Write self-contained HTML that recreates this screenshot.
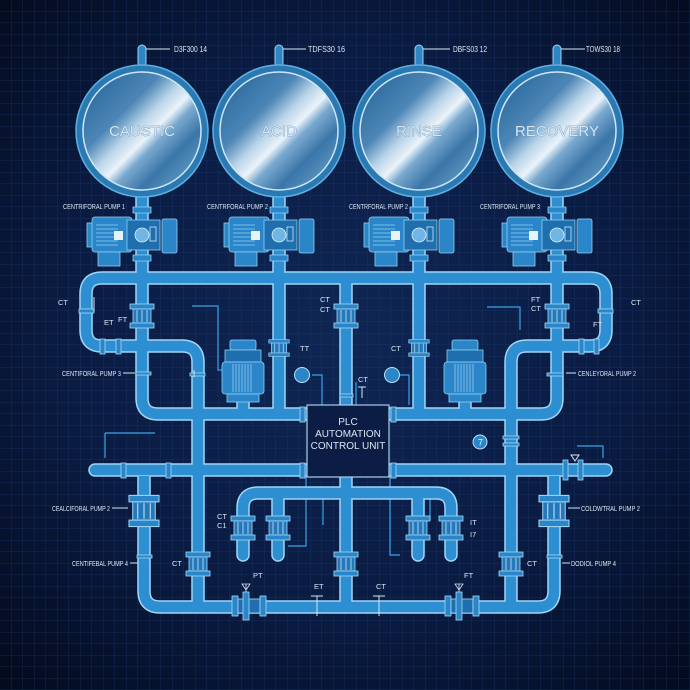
<!DOCTYPE html>
<html><head><meta charset="utf-8">
<style>
html,body{margin:0;padding:0;background:#081634;}
svg{display:block}
text{font-family:"Liberation Sans",sans-serif;fill:#d8e6f2}
</style></head>
<body>
<svg width="690" height="690" viewBox="0 0 690 690" xmlns="http://www.w3.org/2000/svg">
<defs>
<radialGradient id="bg" cx="50%" cy="48%" r="70%">
<stop offset="0" stop-color="#0f2654"/><stop offset="0.6" stop-color="#0a1b41"/><stop offset="1" stop-color="#040b1e"/>
</radialGradient>
<pattern id="grid" width="11.5" height="11.5" patternUnits="userSpaceOnUse">
<path d="M11.5 0V11.5H0" fill="none" stroke="#22407a" stroke-width="0.8" opacity="0.6"/>
</pattern>
<linearGradient id="metal" x1="0.1" y1="0.1" x2="0.9" y2="0.9">
<stop offset="0" stop-color="#2e6b9f"/><stop offset="0.3" stop-color="#4d86b6"/><stop offset="0.45" stop-color="#b9d4e8"/><stop offset="0.56" stop-color="#eaf3fa"/><stop offset="0.64" stop-color="#7aa9cf"/><stop offset="0.8" stop-color="#3b76a8"/><stop offset="1" stop-color="#5f98c4"/>
</linearGradient>
<g id="tank">
<rect x="-4" y="-86" width="8" height="22" rx="4" fill="#2f86c4" stroke="#9fd2f2" stroke-width="1"/>
<circle r="66" fill="#2a79b3" stroke="#5fb0e0" stroke-width="1.5"/>
<circle r="59" fill="url(#metal)" stroke="#cfe6f5" stroke-width="1.5"/>
</g>
<g id="hpump">
<rect x="-55" y="-14" width="6" height="24" fill="#2a86c8" stroke="#8fcff2" stroke-width="0.8"/>
<rect x="-50" y="-20" width="40" height="35" rx="3" fill="#2a86c8" stroke="#8fcff2" stroke-width="0.8"/>
<path d="M-46,-12h22M-46,-8h22M-46,-4h22M-46,0h22M-46,4h22M-46,8h22" stroke="#8fcff2" stroke-width="0.7"/>
<rect x="-28" y="-6" width="9" height="9" fill="#e8f2f8"/>
<rect x="-44" y="15" width="22" height="14" fill="#2a86c8" stroke="#8fcff2" stroke-width="0.8"/>
<rect x="-15" y="-17" width="33" height="30" fill="#1f6fae" stroke="#8fcff2" stroke-width="0.8"/>
<circle cx="0" cy="-2" r="7" fill="#6fb6e4" stroke="#d8eefa" stroke-width="0.8"/>
<rect x="8" y="-10" width="6" height="14" fill="none" stroke="#cfe6f5" stroke-width="0.8"/>
<rect x="20" y="-18" width="15" height="34" rx="2" fill="#2a86c8" stroke="#8fcff2" stroke-width="0.8"/>
<rect x="-9" y="-30" width="18" height="6" fill="#2a86c8" stroke="#8fcff2" stroke-width="0.8"/>
<rect x="-9" y="18" width="18" height="6" fill="#2a86c8" stroke="#8fcff2" stroke-width="0.8"/>
</g>
<g id="vflange">
<rect x="-12" y="-12" width="24" height="5" fill="#2a86c8" stroke="#a6d8f4" stroke-width="0.8"/>
<rect x="-9" y="-7" width="18" height="14" fill="#2379bb" stroke="#a6d8f4" stroke-width="0.8"/>
<path d="M-5,-6v12M0,-6v12M5,-6v12" stroke="#cfe6f5" stroke-width="0.8"/>
<rect x="-12" y="7" width="24" height="5" fill="#2a86c8" stroke="#a6d8f4" stroke-width="0.8"/>
</g>
<g id="vmotor">
<rect x="-13" y="-58" width="26" height="10" rx="2" fill="#2a86c8" stroke="#8fcff2" stroke-width="0.8"/>
<rect x="-18" y="-48" width="36" height="12" fill="#1f6fae" stroke="#8fcff2" stroke-width="0.8"/>
<rect x="-21" y="-36" width="42" height="32" rx="3" fill="#2a86c8" stroke="#8fcff2" stroke-width="0.8"/>
<path d="M-10,-34v28M-7,-34v28M-4,-34v28M-1,-34v28M2,-34v28M5,-34v28M8,-34v28" stroke="#a6d8f4" stroke-width="0.7"/>
<rect x="-16" y="-4" width="32" height="8" fill="#2a86c8" stroke="#8fcff2" stroke-width="0.8"/>
</g>
<g id="valve">
<rect x="-17" y="-10" width="6" height="20" fill="#2a86c8" stroke="#a6d8f4" stroke-width="0.8"/>
<rect x="-11" y="-7" width="22" height="14" fill="#1f6fae" stroke="#a6d8f4" stroke-width="0.8"/>
<rect x="-6" y="-14" width="6" height="28" fill="#2a86c8" stroke="#a6d8f4" stroke-width="0.8"/>
<rect x="11" y="-10" width="6" height="20" fill="#2a86c8" stroke="#a6d8f4" stroke-width="0.8"/>
<path d="M-3,-14v-8M-7,-22h8l-4,6z" stroke="#cfe6f5" fill="none" stroke-width="0.8"/>
</g>
<g id="pipes" fill="none" stroke-linejoin="round">
<path d="M198,607 V362 Q198,346 182,346 H102 Q86,346 86,330 V294 Q86,278 102,278 H590 Q606,278 606,294 V330 Q606,346 590,346 H527 Q511,346 511,362 V607"/>
<path d="M144,476 V591 Q144,607 160,607 H538 Q554,607 554,591 V476"/>
<path d="M142,197 V398 Q142,414 158,414 H307"/>
<path d="M557,197 V398 Q557,414 541,414 H389"/>
<path d="M279,197 V414 M419,197 V414 M346,278 V405 M346,477 V607 M243,397 V414 M465,397 V414"/>
<path d="M243,555 V508 Q243,493 258,493 H436 Q451,493 451,508 V555 M278,493 V555 M418,493 V555" stroke-linecap="round"/>
<path d="M95,470 H606" stroke-linecap="round"/>
</g>
</defs>
<rect width="690" height="690" fill="url(#bg)"/>
<rect width="690" height="690" fill="url(#grid)"/>

<g fill="none" stroke="#3aa4e6" stroke-width="1.2">
<path d="M192,306 H218 V370 H224"/>
<path d="M312,375 H322 V405"/>
<path d="M400,375 H409 V405"/>
<path d="M105,433 V458 M105,433 H155"/>
<path d="M577,446 H603 V458"/>
<path d="M487,307 H520 V330"/>
<path d="M356,382 V405"/>
<path d="M306,477 V546 H288"/>
<path d="M390,477 V555 H400"/>
<path d="M323,497 V525"/>
<path d="M430,498 V520"/>
</g>

<use href="#pipes" stroke="#9fd6f6" stroke-width="13.5"/>
<use href="#pipes" stroke="#2d8fd2" stroke-width="10.5"/>

<use href="#tank" x="142" y="131"/>
<use href="#tank" x="279" y="131"/>
<use href="#tank" x="419" y="131"/>
<use href="#tank" x="557" y="131"/>
<g font-size="15" text-anchor="middle" style="fill:#ffffff;stroke:#4f84b0;stroke-width:0.6;paint-order:stroke">
<text x="142" y="136">CAUSTIC</text>
<text x="279" y="136">ACID</text>
<text x="419" y="136">RINSE</text>
<text x="557" y="136">RECOVERY</text>
</g>
<g stroke="#dbe9f4" stroke-width="1">
<path d="M146,49H170M283,49H306M423,49H450M561,49H585"/>
</g>
<g font-size="8">
<text x="174" y="52" textLength="33" lengthAdjust="spacingAndGlyphs">D3F300 14</text>
<text x="308" y="52" textLength="37" lengthAdjust="spacingAndGlyphs">TDFS30 16</text>
<text x="453" y="52" textLength="34" lengthAdjust="spacingAndGlyphs">DBFS03 12</text>
<text x="586" y="52" textLength="34" lengthAdjust="spacingAndGlyphs">TOWS30 18</text>
</g>

<use href="#hpump" x="142" y="237"/>
<use href="#hpump" x="279" y="237"/>
<use href="#hpump" x="419" y="237"/>
<use href="#hpump" x="557" y="237"/>
<g font-size="7.5">
<text x="63" y="209" textLength="62" lengthAdjust="spacingAndGlyphs">CENTRIFORAL PUMP 1</text>
<text x="207" y="209" textLength="61" lengthAdjust="spacingAndGlyphs">CENTRFORAL PUMP 2</text>
<text x="349" y="209" textLength="59" lengthAdjust="spacingAndGlyphs">CENTRFORAL PUMP 2</text>
<text x="480" y="209" textLength="60" lengthAdjust="spacingAndGlyphs">CENTRIFORAL PUMP 3</text>
</g>

<use href="#vflange" x="142" y="316"/>
<use href="#vflange" x="346" y="316"/>
<use href="#vflange" x="557" y="316"/>
<use href="#vflange" x="279" y="348" transform="translate(279,348) scale(0.85,0.7) translate(-279,-348)"/>
<use href="#vflange" x="419" y="348" transform="translate(419,348) scale(0.85,0.7) translate(-419,-348)"/>
<use href="#vflange" x="144" y="511" transform="translate(144,511) scale(1.25,1.3) translate(-144,-511)"/>
<use href="#vflange" x="554" y="511" transform="translate(554,511) scale(1.25,1.3) translate(-554,-511)"/>
<use href="#vflange" x="198" y="564"/>
<use href="#vflange" x="511" y="564"/>
<use href="#vflange" x="346" y="564"/>
<use href="#vflange" x="243" y="528"/>
<use href="#vflange" x="278" y="528"/>
<use href="#vflange" x="418" y="528"/>
<use href="#vflange" x="451" y="528"/>
<g fill="#2a86c8" stroke="#a6d8f4" stroke-width="0.8">
<rect x="100" y="339" width="5" height="15"/><rect x="116" y="339" width="5" height="15"/>
<rect x="579" y="339" width="5" height="15"/><rect x="594" y="339" width="5" height="15"/>
<rect x="79" y="309" width="15" height="4"/><rect x="598" y="309" width="15" height="4"/>
<rect x="136" y="372" width="15" height="3"/><rect x="190" y="373" width="15" height="3"/>
<rect x="121" y="463" width="5" height="15"/><rect x="166" y="463" width="5" height="15"/>
<rect x="300" y="407" width="5" height="15"/><rect x="300" y="463" width="5" height="15"/>
<rect x="391" y="407" width="5" height="15"/><rect x="391" y="463" width="5" height="15"/>
<rect x="503" y="436" width="16" height="3"/><rect x="503" y="443" width="16" height="3"/>
<rect x="547" y="373" width="16" height="3"/>
<rect x="137" y="555" width="15" height="3"/><rect x="547" y="555" width="15" height="3"/>
<rect x="563" y="460" width="5" height="20"/><rect x="578" y="460" width="5" height="20"/>
<rect x="340" y="394" width="13" height="3"/>
</g>

<use href="#vmotor" x="243" y="398"/>
<use href="#vmotor" x="465" y="398"/>

<use href="#valve" x="249" y="606"/>
<use href="#valve" x="462" y="606"/>
<g stroke="#cfe6f5" stroke-width="1" fill="none">
<path d="M317,596V616M311,596H323M379,596V616M373,596H385"/>
<path d="M362,387V398M358,387H366"/>
<path d="M94,297V312M194,370V377"/>
<path d="M571,455l4,6l4,-6z"/>
</g>

<g fill="#2a86c8" stroke="#bfe2f7" stroke-width="1">
<circle cx="302" cy="375" r="7.5"/><circle cx="392" cy="375" r="7.5"/><circle cx="480" cy="442" r="7"/>
</g>
<text x="478" y="445.5" font-size="9" style="fill:#e8f2f8">7</text>

<rect x="307" y="405" width="82" height="72" fill="#0b1d45" stroke="#a9cfe8" stroke-width="1.2"/>
<g font-size="10" text-anchor="middle" style="fill:#d8e6f2">
<text x="348" y="425">PLC</text>
<text x="348" y="437">AUTOMATION</text>
<text x="348" y="449">CONTROL UNIT</text>
</g>

<g font-size="7.5">
<text x="62" y="376" textLength="59" lengthAdjust="spacingAndGlyphs">CENTIFORAL PUMP 3</text>
<text x="52" y="511" textLength="58" lengthAdjust="spacingAndGlyphs">CEALCIFORAL PUMP 2</text>
<text x="72" y="566" textLength="56" lengthAdjust="spacingAndGlyphs">CENTIFEBAL PUMP 4</text>
<text x="578" y="376" textLength="58" lengthAdjust="spacingAndGlyphs">CENLEYORAL PUMP 2</text>
<text x="581" y="511" textLength="59" lengthAdjust="spacingAndGlyphs">COLDWTRAL PUMP 2</text>
<text x="571" y="566" textLength="45" lengthAdjust="spacingAndGlyphs">DODIOL PUMP 4</text>
<text x="172" y="566">CT</text>
<text x="527" y="566">CT</text>
<text x="253" y="578">PT</text>
<text x="314" y="589">ET</text>
<text x="376" y="589">CT</text>
<text x="464" y="578">FT</text>
<text x="217" y="519">CT</text><text x="217" y="528">C1</text>
<text x="470" y="525">IT</text><text x="470" y="537">I7</text>
<text x="320" y="302">CT</text><text x="320" y="312">CT</text>
<text x="300" y="351">TT</text>
<text x="391" y="351">CT</text>
<text x="358" y="382">CT</text>
<text x="531" y="302">FT</text><text x="531" y="311">CT</text>
<text x="593" y="327">FT</text>
<text x="104" y="325">ET</text><text x="118" y="322">FT</text>
<text x="58" y="305">CT</text><text x="631" y="305">CT</text>
</g>
<g stroke="#cfe6f5" stroke-width="1">
<path d="M123,373H135M566,373H576M112,508H128M568,508H580M130,563H138M562,563H570"/>
</g>
</svg>
</body></html>
